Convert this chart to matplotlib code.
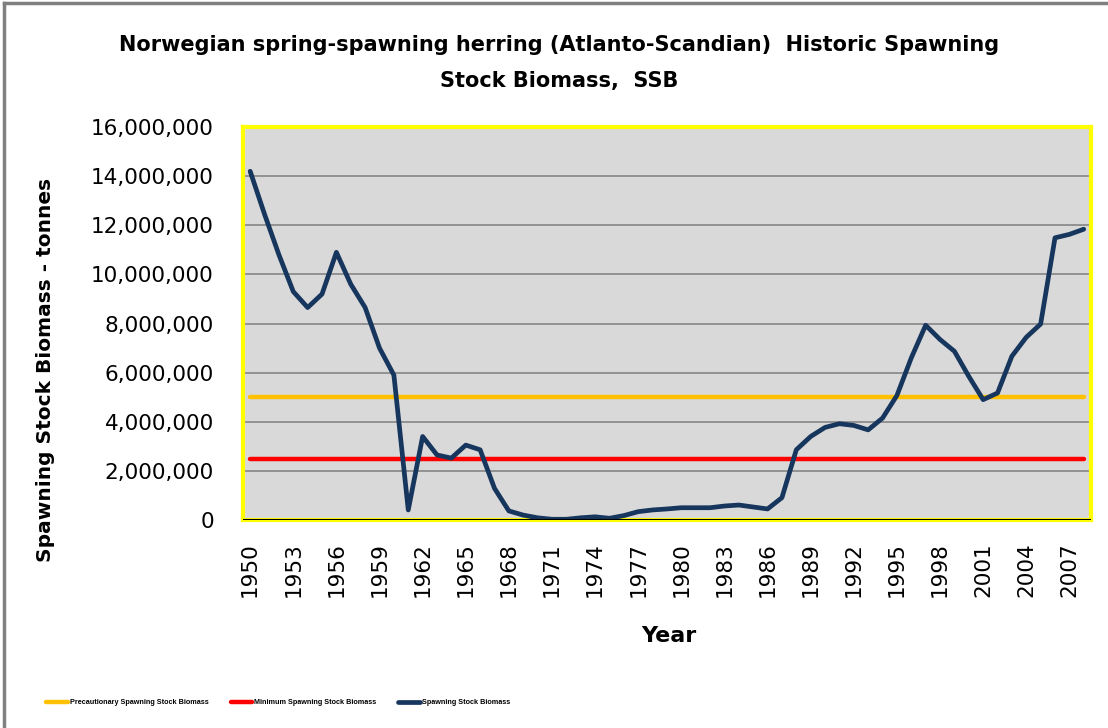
import numpy as np
import matplotlib.pyplot as plt
from matplotlib.lines import Line2D

years = list(range(1950, 2009))
ssb = [14200000, 12450000, 10800000, 9300000, 8650000, 9200000, 10900000, 9600000,
       8650000, 7000000, 5900000, 410000, 3400000, 2650000, 2520000, 3050000,
       2860000, 1290000, 370000, 200000, 90000, 30000, 30000, 90000, 130000,
       70000, 180000, 340000, 410000, 450000, 500000, 500000, 500000, 570000,
       610000, 530000, 450000, 910000, 2860000, 3400000, 3770000, 3920000,
       3850000, 3670000, 4150000, 5070000, 6600000, 7930000, 7350000, 6870000,
       5850000, 4900000, 5170000, 6670000, 7440000, 7980000, 11490000, 11630000,
       11840000]
precautionary = [5000000] * len(years)
minimum = [2500000] * len(years)
yticks = list(range(0, 16000001, 2000000))

fig = plt.figure(figsize=(11.08, 7.28), dpi=100)
ax = fig.add_axes([0.2193, 0.2857, 0.7653, 0.5398])

x = np.arange(len(years))
ax.set_facecolor('#D9D9D9')
for v in yticks[1:]:
    ax.axhline(v, color='#868686', lw=1.2, zorder=1)

ax.plot(x, precautionary, color='#FFC000', lw=3.2, solid_capstyle='round', zorder=3,
        label='Precautionary Spawning Stock Biomass')
ax.plot(x, minimum, color='#FF0000', lw=3.2, solid_capstyle='round', zorder=3,
        label='Minimum Spawning Stock Biomass')
ax.plot(x, ssb, color='#17365D', lw=3.4, solid_capstyle='round', solid_joinstyle='round',
        zorder=4, label='Spawning Stock Biomass')
ax.axhline(0, color='black', lw=1.5, zorder=5)

ax.set_xlim(-0.5, len(years) - 0.5)
ax.set_ylim(0, 16000000)
ax.set_yticks(yticks)
ax.set_yticklabels([f'{v:,}' for v in yticks], fontsize=15.5)
ax.set_xticks(x[::3])
ax.set_xticklabels([str(y) for y in years[::3]], rotation=90, fontsize=15.5)
ax.tick_params(length=0)
ax.tick_params(axis='x', pad=16)
ax.tick_params(axis='y', pad=21)

for s in ax.spines.values():
    s.set_color('#FFFF00')
    s.set_linewidth(3)

ax.set_xlabel('Year', fontsize=16, fontweight='bold')
ax.xaxis.set_label_coords(0.502, -0.27)
ax.set_ylabel('Spawning Stock Biomass - tonnes', fontsize=14.5, fontweight='bold')
ax.yaxis.set_label_coords(-0.222, 0.382)

fig.text(0.505, 0.938, 'Norwegian spring-spawning herring (Atlanto-Scandian)  Historic Spawning',
         ha='center', va='center', fontsize=15, fontweight='bold')
fig.text(0.505, 0.889, 'Stock Biomass,  SSB', ha='center', va='center',
         fontsize=15, fontweight='bold')

handles, labels = ax.get_legend_handles_labels()
fig.legend(handles, labels, loc='center left', bbox_to_anchor=(0.036, 0.035), ncol=3,
           frameon=False, handlelength=3.0, handletextpad=0.3, columnspacing=3.0,
           prop={'family': ['Liberation Sans', 'DejaVu Sans'], 'weight': 'bold', 'size': 5.2})

fig.add_artist(Line2D([0.004, 0.004], [0, 0.996], color='#808080', lw=2.5,
                      transform=fig.transFigure))
fig.add_artist(Line2D([0.004, 1.0], [0.996, 0.996], color='#808080', lw=2.5,
                      transform=fig.transFigure))

fig.savefig('out.png', dpi=100)
